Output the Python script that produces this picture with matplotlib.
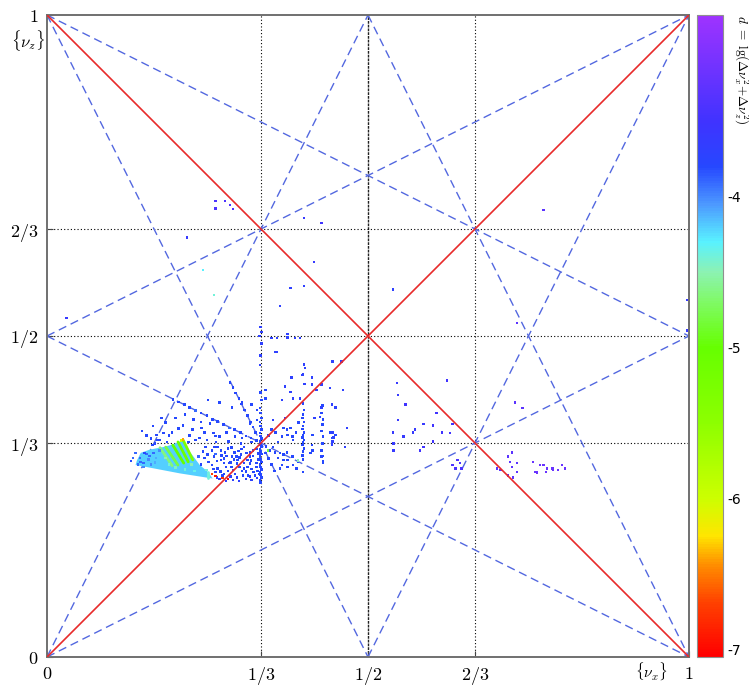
import numpy as np
import matplotlib
matplotlib.use("Agg")
import matplotlib.pyplot as plt
from matplotlib.colors import LinearSegmentedColormap, Normalize

plt.rcParams['mathtext.fontset'] = 'cm'

# ---------------- data ----------------
tick_vals = [0, 1/3, 1/2, 2/3, 1]
tick_labels = [r'$0$', r'$1/3$', r'$1/2$', r'$2/3$', r'$1$']
grid_x = [1/3, 2/3]
grid_half = 1/2
grid_z = [1/3, 1/2, 2/3]

# resonance lines m_x*nu_x + m_z*nu_z = n
res_mx = [-2, 1, 2, 1, 2, 1, 2, -1]
res_mz = [1, -2, 1, 2, 1, 2, -1, 2]
res_n = [0, 0, 2, 2, 1, 1, 1, 1]
# coupling (red) lines
red_mx = [1, 1]
red_mz = [-1, 1]
red_n = [0, 1]

cbar_ticks = [-7, -6, -5, -4]
d_min, d_max = -7.05, -2.8

# fan-shaped dense region (outline) and its d value
fan_x = [0.140, 0.146, 0.160, 0.181, 0.196, 0.212, 0.223, 0.238, 0.251, 0.258, 0.207, 0.160, 0.138]
fan_z = [0.306, 0.318, 0.323, 0.327, 0.331, 0.338, 0.319, 0.299, 0.288, 0.278, 0.286, 0.295, 0.299]
fan_d = -4.2

# streaks inside the fan
ray_x0 = [0.212, 0.204, 0.196, 0.185, 0.176, 0.251]
ray_z0 = [0.338, 0.335, 0.330, 0.327, 0.326, 0.288]
ray_x1 = [0.227, 0.220, 0.213, 0.204, 0.195, 0.251]
ray_z1 = [0.307, 0.304, 0.302, 0.299, 0.298, 0.279]
ray_d = [-5.3, -5.1, -5.0, -4.8, -4.65, -4.4]

# tune points (nu_x, nu_z, d)
pts = [
    # fan speckle
    (0.145, 0.310, -3.9), (0.150, 0.302, -3.9), (0.155, 0.316, -3.9), (0.158, 0.308, -4.0),
    (0.162, 0.300, -4.0), (0.166, 0.318, -3.9), (0.170, 0.310, -4.1), (0.152, 0.318, -3.8),
    (0.146, 0.304, -3.9), (0.175, 0.322, -4.0), (0.178, 0.314, -4.2), (0.134, 0.310, -3.9),
    (0.138, 0.318, -3.9), (0.131, 0.305, -3.8), (0.148, 0.352, -3.8), (0.155, 0.345, -3.8),
    (0.162, 0.340, -3.8), (0.172, 0.338, -3.8), (0.212, 0.339, -6.4), (0.209, 0.337, -6.0),
    (0.190, 0.300, -4.4), (0.200, 0.295, -4.45), (0.215, 0.292, -4.4), (0.230, 0.290, -4.35),
    (0.185, 0.310, -4.5), (0.225, 0.300, -4.5), (0.142, 0.300, -3.9), (0.150, 0.296, -4.0),
    (0.160, 0.313, -3.9), (0.168, 0.303, -4.1),
    # points along resonance x+2z=1 (above 1/3)
    (0.196, 0.401, -3.8), (0.205, 0.397, -3.8), (0.214, 0.393, -3.8), (0.222, 0.389, -3.8),
    (0.231, 0.384, -3.9), (0.240, 0.380, -3.8), (0.249, 0.376, -3.8), (0.258, 0.370, -3.8),
    (0.266, 0.367, -3.8), (0.275, 0.362, -3.8), (0.284, 0.357, -3.9), (0.292, 0.354, -3.8),
    (0.301, 0.350, -3.8), (0.310, 0.344, -3.8), (0.318, 0.341, -3.8), (0.326, 0.337, -3.8),
    # along 2x+z=1
    (0.285, 0.428, -3.8), (0.290, 0.420, -3.8), (0.294, 0.411, -3.8), (0.299, 0.403, -3.8),
    (0.303, 0.394, -3.8), (0.308, 0.385, -3.8), (0.312, 0.376, -3.8), (0.317, 0.366, -3.8),
    (0.321, 0.358, -3.8), (0.325, 0.350, -3.8),
    # column nu_x = 1/3
    (0.333, 0.272, -3.8), (0.332, 0.276, -3.8), (0.334, 0.280, -3.8), (0.333, 0.284, -3.8),
    (0.332, 0.288, -3.8), (0.334, 0.292, -3.8), (0.333, 0.296, -3.8), (0.332, 0.300, -3.8),
    (0.334, 0.304, -3.8), (0.333, 0.308, -3.8), (0.332, 0.312, -3.8), (0.334, 0.316, -3.8),
    (0.333, 0.320, -3.8), (0.332, 0.324, -3.8), (0.334, 0.328, -3.8), (0.333, 0.331, -3.8),
    (0.332, 0.336, -3.8), (0.334, 0.340, -3.8), (0.333, 0.344, -3.8), (0.332, 0.349, -3.8),
    (0.334, 0.354, -3.8), (0.333, 0.360, -3.8), (0.332, 0.366, -3.8), (0.334, 0.372, -3.8),
    (0.333, 0.380, -3.8), (0.332, 0.388, -3.8), (0.334, 0.400, -3.8), (0.333, 0.412, -3.8),
    (0.333, 0.514, -3.7), (0.334, 0.506, -3.7), (0.331, 0.500, -3.7), (0.334, 0.488, -3.7),
    (0.333, 0.470, -3.7), (0.332, 0.455, -3.7),
    # column nu_x ~ 0.40
    (0.399, 0.395, -3.8), (0.400, 0.385, -3.8), (0.399, 0.378, -3.8), (0.398, 0.372, -3.8),
    (0.400, 0.366, -3.8), (0.399, 0.360, -3.8), (0.398, 0.355, -3.8), (0.400, 0.350, -3.8),
    (0.399, 0.346, -3.8), (0.398, 0.342, -3.8), (0.400, 0.338, -3.8), (0.399, 0.334, -3.8),
    (0.398, 0.330, -3.8), (0.400, 0.325, -3.8), (0.399, 0.320, -3.8), (0.398, 0.314, -3.8),
    (0.399, 0.308, -3.8), (0.400, 0.456, -3.7), (0.399, 0.440, -3.7), (0.401, 0.425, -3.7),
    # column nu_x ~ 0.43
    (0.429, 0.392, -3.8), (0.428, 0.380, -3.8), (0.430, 0.370, -3.8), (0.429, 0.362, -3.8),
    (0.428, 0.352, -3.8), (0.430, 0.343, -3.8), (0.429, 0.333, -3.8), (0.428, 0.322, -3.8),
    (0.429, 0.313, -3.8), (0.430, 0.305, -3.8),
    # column nu_x ~ 0.445
    (0.445, 0.350, -3.7), (0.446, 0.342, -3.7), (0.445, 0.336, -3.7), (0.444, 0.331, -3.7),
    # scatter right of 1/3, above
    (0.358, 0.475, -3.7), (0.402, 0.450, -3.7), (0.445, 0.460, -3.7), (0.459, 0.460, -3.7),
    (0.381, 0.435, -3.7), (0.371, 0.421, -3.7), (0.379, 0.413, -3.7), (0.397, 0.439, -3.7),
    (0.413, 0.435, -3.7), (0.413, 0.424, -3.7), (0.428, 0.424, -3.7), (0.441, 0.419, -3.7),
    (0.461, 0.416, -3.7), (0.420, 0.416, -3.7), (0.366, 0.400, -3.7), (0.383, 0.403, -3.7),
    (0.394, 0.403, -3.7), (0.428, 0.389, -3.7), (0.444, 0.393, -3.7), (0.449, 0.389, -3.7),
    (0.417, 0.372, -3.7), (0.425, 0.374, -3.7), (0.371, 0.372, -3.7), (0.352, 0.369, -3.7),
    (0.350, 0.354, -3.8), (0.368, 0.357, -3.8), (0.374, 0.354, -3.8), (0.379, 0.357, -3.8),
    (0.375, 0.346, -3.8), (0.366, 0.343, -3.8), (0.382, 0.343, -3.8), (0.360, 0.335, -3.8),
    (0.383, 0.338, -3.8), (0.414, 0.346, -3.8), (0.441, 0.350, -3.8), (0.449, 0.346, -3.8),
    (0.467, 0.357, -3.7), (0.464, 0.327, -3.7), (0.413, 0.330, -3.8), (0.428, 0.322, -3.8),
    (0.444, 0.341, -3.8), (0.316, 0.364, -3.8), (0.327, 0.369, -3.8), (0.340, 0.416, -3.8),
    (0.340, 0.403, -3.8), (0.355, 0.475, -3.7), (0.375, 0.498, -3.7), (0.350, 0.497, -3.7),
    (0.358, 0.497, -3.7), (0.386, 0.497, -3.7), (0.394, 0.497, -3.7), (0.375, 0.503, -3.7),
    (0.345, 0.345, -3.8), (0.356, 0.350, -3.8), (0.388, 0.350, -3.8), (0.392, 0.365, -3.8),
    # below 1/3, right of 1/3
    (0.347, 0.322, -3.8), (0.355, 0.319, -3.8), (0.363, 0.318, -3.8), (0.368, 0.315, -3.8),
    (0.374, 0.319, -3.8), (0.360, 0.310, -3.8), (0.368, 0.307, -3.8), (0.375, 0.307, -3.8),
    (0.382, 0.312, -3.8), (0.366, 0.299, -3.8), (0.375, 0.296, -3.8), (0.383, 0.299, -3.8),
    (0.391, 0.304, -3.8), (0.389, 0.294, -3.8), (0.363, 0.294, -3.8), (0.414, 0.322, -3.8),
    (0.428, 0.312, -3.8), (0.430, 0.302, -3.8), (0.399, 0.288, -3.8), (0.410, 0.318, -3.8),
    (0.344, 0.322, -4.8), (0.391, 0.306, -4.5), (0.248, 0.291, -4.4),
    (0.340, 0.318, -3.8), (0.345, 0.309, -3.8), (0.350, 0.300, -3.8), (0.354, 0.290, -3.8),
    (0.341, 0.328, -3.8), (0.352, 0.327, -3.8),
    # dense blue patch below 1/3, left of 1/3
    (0.257, 0.322, -3.8), (0.266, 0.327, -3.8), (0.277, 0.319, -3.8), (0.287, 0.326, -3.8),
    (0.298, 0.321, -3.8), (0.307, 0.327, -3.8), (0.316, 0.319, -3.8), (0.326, 0.324, -3.8),
    (0.260, 0.312, -3.8), (0.271, 0.307, -3.8), (0.280, 0.313, -3.8), (0.291, 0.308, -3.8),
    (0.302, 0.315, -3.8), (0.312, 0.307, -3.8), (0.321, 0.313, -3.8), (0.329, 0.308, -3.8),
    (0.257, 0.299, -3.8), (0.266, 0.294, -3.8), (0.276, 0.302, -3.8), (0.287, 0.296, -3.8),
    (0.296, 0.301, -3.8), (0.307, 0.294, -3.8), (0.316, 0.301, -3.8), (0.326, 0.296, -3.8),
    (0.262, 0.288, -3.8), (0.273, 0.283, -3.8), (0.282, 0.290, -3.8), (0.293, 0.285, -3.8),
    (0.304, 0.290, -3.8), (0.313, 0.283, -3.8), (0.322, 0.288, -3.8), (0.330, 0.285, -3.8),
    (0.269, 0.277, -3.7), (0.279, 0.274, -3.7), (0.290, 0.276, -3.7), (0.299, 0.274, -3.7),
    (0.310, 0.277, -3.7), (0.319, 0.276, -3.7), (0.327, 0.279, -3.7),
    (0.263, 0.335, -3.8), (0.283, 0.336, -3.8), (0.302, 0.333, -3.8), (0.319, 0.335, -3.8),
    (0.262, 0.316, -3.9), (0.284, 0.302, -3.8), (0.295, 0.312, -3.8), (0.312, 0.296, -3.8),
    (0.261, 0.327, -3.8), (0.271, 0.322, -3.8), (0.282, 0.325, -3.8), (0.292, 0.319, -3.8),
    (0.303, 0.324, -3.8), (0.311, 0.318, -3.8), (0.321, 0.322, -3.8), (0.329, 0.317, -3.8),
    (0.265, 0.305, -3.8), (0.276, 0.309, -3.8), (0.286, 0.303, -3.8), (0.297, 0.307, -3.8),
    (0.307, 0.302, -3.8), (0.318, 0.306, -3.8), (0.326, 0.302, -3.8),
    (0.259, 0.293, -3.8), (0.270, 0.289, -3.8), (0.279, 0.296, -3.8), (0.290, 0.291, -3.8),
    (0.300, 0.296, -3.8), (0.310, 0.289, -3.8), (0.319, 0.293, -3.8), (0.328, 0.290, -3.8),
    (0.265, 0.280, -3.7), (0.276, 0.285, -3.8), (0.286, 0.281, -3.7), (0.296, 0.280, -3.7),
    (0.305, 0.283, -3.8), (0.316, 0.281, -3.7), (0.324, 0.283, -3.8),
    (0.272, 0.314, -3.8), (0.300, 0.311, -3.8), (0.316, 0.312, -3.8), (0.288, 0.312, -3.8),
    (0.240, 0.300, -3.8), (0.245, 0.310, -3.8), (0.243, 0.320, -3.8), (0.250, 0.315, -3.8),
    (0.247, 0.327, -3.8), (0.236, 0.312, -3.9), (0.252, 0.304, -3.8),
    (0.262, 0.282, -6.9), (0.273, 0.279, -6.8), (0.282, 0.277, -7.0), (0.257, 0.285, -6.7),
    # scatter above 1/3, left of 1/3
    (0.251, 0.400, -3.8), (0.269, 0.396, -3.8), (0.288, 0.389, -3.8), (0.304, 0.397, -3.8),
    (0.319, 0.393, -3.8), (0.327, 0.385, -3.8), (0.212, 0.361, -3.8), (0.227, 0.354, -3.8),
    (0.241, 0.357, -3.8), (0.254, 0.364, -3.8), (0.259, 0.349, -3.8), (0.269, 0.343, -3.8),
    (0.280, 0.350, -3.8), (0.293, 0.343, -3.8), (0.304, 0.341, -3.8), (0.195, 0.350, -3.8),
    (0.181, 0.349, -3.8), (0.171, 0.346, -3.8), (0.220, 0.335, -3.8), (0.231, 0.338, -3.8),
    (0.238, 0.341, -3.8), (0.249, 0.338, -3.8), (0.262, 0.344, -3.8), (0.176, 0.338, -3.8),
    (0.187, 0.335, -3.8), (0.168, 0.333, -3.8), (0.164, 0.330, -3.8),
    (0.185, 0.365, -3.8), (0.200, 0.372, -3.8), (0.215, 0.378, -3.8), (0.228, 0.370, -3.8),
    (0.240, 0.366, -3.8), (0.205, 0.356, -3.8), (0.190, 0.345, -3.8), (0.245, 0.350, -3.8),
    (0.222, 0.345, -3.8), (0.178, 0.372, -3.8), (0.165, 0.360, -3.8),
    # isolated points
    (0.262, 0.710, -3.4), (0.277, 0.710, -3.4), (0.285, 0.704, -3.4), (0.262, 0.699, -3.4),
    (0.290, 0.698, -3.4), (0.218, 0.653, -3.6), (0.243, 0.603, -4.3), (0.260, 0.564, -4.4),
    (0.400, 0.684, -3.6), (0.428, 0.676, -3.5), (0.416, 0.615, -3.6), (0.379, 0.575, -3.7),
    (0.400, 0.578, -3.7), (0.363, 0.547, -3.7), (0.539, 0.572, -3.7), (0.773, 0.696, -3.3),
    (0.732, 0.520, -3.3), (0.030, 0.528, -3.6), (0.997, 0.556, -3.6), (0.997, 0.509, -3.6),
    (0.545, 0.427, -3.6), (0.547, 0.408, -3.6), (0.558, 0.393, -3.5), (0.623, 0.431, -3.5),
    (0.539, 0.350, -3.6), (0.540, 0.333, -3.6), (0.540, 0.322, -3.6), (0.555, 0.343, -3.6),
    (0.570, 0.350, -3.6), (0.586, 0.363, -3.6), (0.601, 0.361, -3.5), (0.601, 0.336, -3.5),
    (0.581, 0.322, -3.5), (0.573, 0.354, -3.6), (0.547, 0.369, -3.6), (0.607, 0.380, -3.5),
    (0.632, 0.363, -3.5), (0.586, 0.327, -3.5), (0.729, 0.396, -3.3), (0.741, 0.388, -3.3),
    (0.628, 0.349, -3.5), (0.615, 0.350, -3.5),
    # cluster right of 2/3
    (0.632, 0.299, -3.4), (0.639, 0.307, -3.4), (0.643, 0.302, -3.4), (0.636, 0.294, -3.4),
    (0.646, 0.294, -3.4), (0.718, 0.312, -3.3), (0.724, 0.319, -3.3), (0.721, 0.304, -3.3),
    (0.732, 0.302, -3.3), (0.724, 0.296, -3.3), (0.732, 0.288, -3.3), (0.706, 0.291, -3.3),
    (0.701, 0.294, -3.3), (0.718, 0.283, -3.3), (0.726, 0.280, -3.3), (0.757, 0.304, -3.2),
    (0.760, 0.288, -3.2), (0.768, 0.299, -3.2), (0.773, 0.299, -3.2), (0.779, 0.294, -3.2),
    (0.788, 0.291, -3.2), (0.796, 0.291, -3.2), (0.802, 0.299, -3.2), (0.807, 0.294, -3.2),
    (0.787, 0.294, -3.2), (0.777, 0.288, -3.2), (0.763, 0.287, -3.2),
]
nu_x = [p[0] for p in pts]
nu_z = [p[1] for p in pts]
d_val = [p[2] for p in pts]

# ---------------- colormap ----------------
stops = [
    (0.000, (1.00, 0.00, 0.00)),
    (0.082, (1.00, 0.25, 0.00)),
    (0.141, (1.00, 0.55, 0.00)),
    (0.188, (1.00, 0.90, 0.00)),
    (0.247, (0.80, 1.00, 0.00)),
    (0.365, (0.55, 1.00, 0.00)),
    (0.482, (0.40, 1.00, 0.00)),
    (0.553, (0.50, 0.98, 0.40)),
    (0.600, (0.55, 0.95, 0.70)),
    (0.647, (0.35, 0.95, 1.00)),
    (0.706, (0.30, 0.60, 1.00)),
    (0.765, (0.15, 0.28, 1.00)),
    (0.835, (0.25, 0.20, 1.00)),
    (1.000, (0.62, 0.20, 1.00)),
]
cmap = LinearSegmentedColormap.from_list('tune', stops)
norm = Normalize(vmin=d_min, vmax=d_max)

# ---------------- figure ----------------
fig = plt.figure(figsize=(7.49, 6.86), dpi=100)
ax = fig.add_axes([47/749, 1 - 657/686, 642/749, 642/686])
cax = fig.add_axes([697/749, 1 - 657/686, 26/749, 642/686])

ax.set_xlim(0, 1)
ax.set_ylim(0, 1)

for gx in grid_x:
    ax.axvline(gx, color='black', lw=0.8, ls=(0, (1, 2)), zorder=1)
ax.axvline(grid_half, color='#222222', lw=1.0, ls=(0, (2, 0.7)), zorder=1)
for gz in grid_z:
    ax.axhline(gz, color='black', lw=0.8, ls=(0, (1, 2)), zorder=1)

blue_line = '#5468e0'
for mx, mz, n in zip(res_mx, res_mz, res_n):
    p0 = (0.0, n / mz)
    p1 = (1.0, (n - mx) / mz)
    ax.axline(p0, p1, color=blue_line, lw=1.0, dashes=(6, 3.5), zorder=2)

for mx, mz, n in zip(red_mx, red_mz, red_n):
    p0 = (0.0, n / mz)
    p1 = (1.0, (n - mx) / mz)
    ax.axline(p0, p1, color='#e82a2a', lw=1.2, zorder=5)

# fan region
ax.fill(fan_x, fan_z, color=cmap(norm(fan_d)), lw=0, zorder=3)
for x0, z0, x1, z1, dv in zip(ray_x0, ray_z0, ray_x1, ray_z1, ray_d):
    ax.plot([x0, x1], [z0, z1], color=cmap(norm(dv)), lw=2.0, solid_capstyle='round', zorder=3.5)

sc = ax.scatter(nu_x, nu_z, c=d_val, cmap=cmap, norm=norm, s=3.5, marker='s',
                linewidths=0, zorder=4)

ax.set_xticks(tick_vals)
ax.set_xticklabels(tick_labels, fontsize=13)
ax.set_yticks(tick_vals)
ax.set_yticklabels(tick_labels, fontsize=13)
ax.tick_params(direction='in', length=4, width=0.8, color='#444444', pad=6)
for sp in ax.spines.values():
    sp.set_color('#707070')
    sp.set_linewidth(1.4)

ax.text(-0.030, 0.961, r'$\{\nu_z\}$', transform=ax.transAxes, fontsize=12,
        ha='center', va='center')
ax.text(0.942, -0.022, r'$\{\nu_x\}$', transform=ax.transAxes, fontsize=11,
        ha='center', va='center')

cb = fig.colorbar(sc, cax=cax)
cb.set_ticks(cbar_ticks)
cb.set_ticklabels([str(t) for t in cbar_ticks])
cax.tick_params(length=0, labelsize=10, pad=3)
cb.outline.set_edgecolor('#909090')
cb.outline.set_linewidth(0.8)
cax.text(1.36, 1.0, r'$d\ =\ \mathrm{lg}(\Delta\nu_x^2\!+\!\Delta\nu_z^2)$',
         transform=cax.transAxes, rotation=270, ha='left', va='top', fontsize=9.5)

fig.savefig('out.png', dpi=100)
